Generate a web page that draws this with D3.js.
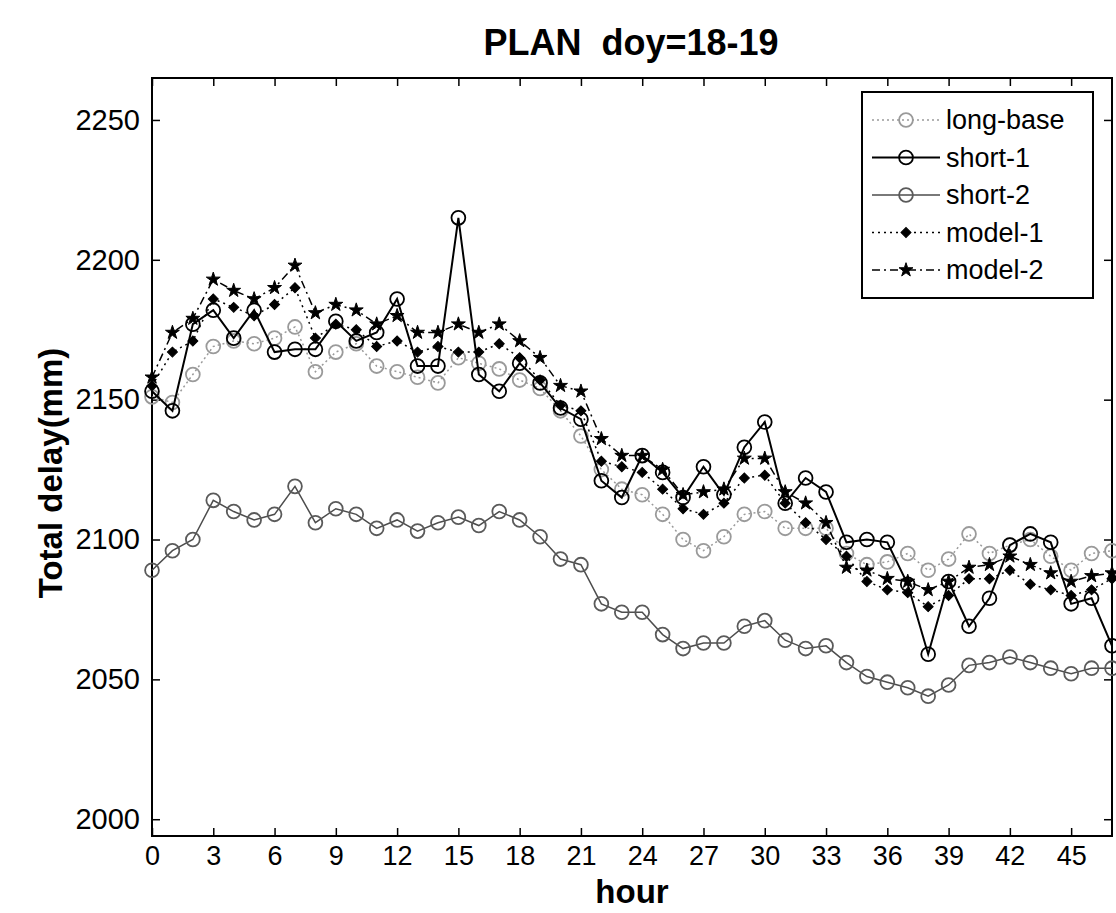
<!DOCTYPE html>
<html lang="en">
<head>
<meta charset="UTF-8">
<title>PLAN doy=18-19</title>
<script src="https://d3js.org/d3.v7.min.js"></script>
<style>
  body { margin: 0; background: #fff; }
  text { font-family: "Liberation Sans", Arial, sans-serif; fill: #000; }
  .axis text { font-size: 27px; }
  .axis.y text { font-size: 29px; }
  .axis line { stroke: #000; stroke-width: 1.5; }
  .title { font-size: 36px; font-weight: bold; }
  .axis-label { font-size: 33px; font-weight: bold; }
  .legend text { font-size: 27px; }
</style>
</head>
<body>
<svg width="1116" height="913"></svg>
<script>
// hour of the two days
const hours = [0, 1, 2, 3, 4, 5, 6, 7, 8, 9, 10, 11, 12, 13, 14, 15, 16, 17, 18, 19, 20, 21, 22, 23,
               24, 25, 26, 27, 28, 29, 30, 31, 32, 33, 34, 35, 36, 37, 38, 39, 40, 41, 42, 43, 44, 45, 46, 47];

const longBase = [2151, 2149, 2159, 2169, 2171, 2170, 2172, 2176, 2160, 2167, 2170, 2162, 2160, 2158, 2156, 2165,
                  2163, 2161, 2157, 2154, 2146, 2137, 2125, 2118, 2116, 2109, 2100, 2096, 2101, 2109, 2110, 2104,
                  2104, 2104, 2095, 2091, 2092, 2095, 2089, 2093, 2102, 2095, 2098, 2100, 2094, 2089, 2095, 2096];
const short1 = [2153, 2146, 2177, 2182, 2172, 2182, 2167, 2168, 2168, 2178, 2171, 2174, 2186, 2162, 2162, 2215,
                2159, 2153, 2163, 2156, 2147, 2143, 2121, 2115, 2130, 2124, 2115, 2126, 2116, 2133, 2142, 2113,
                2122, 2117, 2099, 2100, 2099, 2084, 2059, 2085, 2069, 2079, 2098, 2102, 2099, 2077, 2079, 2062];
const short2 = [2089, 2096, 2100, 2114, 2110, 2107, 2109, 2119, 2106, 2111, 2109, 2104, 2107, 2103, 2106, 2108,
                2105, 2110, 2107, 2101, 2093, 2091, 2077, 2074, 2074, 2066, 2061, 2063, 2063, 2069, 2071, 2064,
                2061, 2062, 2056, 2051, 2049, 2047, 2044, 2048, 2055, 2056, 2058, 2056, 2054, 2052, 2054, 2054];
const model1 = [2155, 2167, 2171, 2186, 2183, 2180, 2184, 2190, 2172, 2177, 2175, 2169, 2171, 2167, 2169, 2167,
                2167, 2170, 2165, 2157, 2148, 2146, 2128, 2126, 2124, 2118, 2111, 2109, 2113, 2122, 2123, 2113,
                2106, 2100, 2094, 2085, 2082, 2081, 2076, 2080, 2086, 2086, 2089, 2084, 2082, 2080, 2082, 2086];
const model2 = [2158, 2174, 2179, 2193, 2189, 2186, 2190, 2198, 2181, 2184, 2182, 2177, 2180, 2174, 2174, 2177,
                2174, 2177, 2171, 2165, 2155, 2153, 2136, 2130, 2130, 2125, 2116, 2117, 2118, 2129, 2129, 2117,
                2113, 2106, 2090, 2089, 2086, 2085, 2082, 2085, 2090, 2091, 2094, 2091, 2088, 2085, 2087, 2088];

const xTicks = [0, 3, 6, 9, 12, 15, 18, 21, 24, 27, 30, 33, 36, 39, 42, 45];
const yTicks = [2000, 2050, 2100, 2150, 2200, 2250];

const series = [
  {name: "long-base", values: longBase, stroke: "#9a9a9a", dash: "2,3", width: 1.5, marker: "circle", mstroke: "#9a9a9a", mfill: "none"},
  {name: "short-1", values: short1, stroke: "#000", dash: null, width: 2, marker: "circle", mstroke: "#000", mfill: "none"},
  {name: "short-2", values: short2, stroke: "#4d4d4d", dash: null, width: 1.5, marker: "circle", mstroke: "#5a5a5a", mfill: "none"},
  {name: "model-1", values: model1, stroke: "#000", dash: "2,4", width: 1.5, marker: "diamond", mstroke: "#000", mfill: "#000"},
  {name: "model-2", values: model2, stroke: "#000", dash: "8,4,2,4", width: 1.5, marker: "star", mstroke: "#000", mfill: "#000"}
];
// draw order: backgrounds first, short-1 on top
const drawOrder = ["long-base", "short-2", "model-1", "model-2", "short-1"];

const svg = d3.select("svg"),
  margin = {top: 78, right: 4, bottom: 77, left: 152},
  width = +svg.attr("width") - margin.left - margin.right,
  height = +svg.attr("height") - margin.top - margin.bottom,
  g = svg.append("g").attr("transform", "translate(" + margin.left + "," + margin.top + ")");

const x = d3.scaleLinear().domain([0, 47]).range([0, width]);
const y = d3.scaleLinear().domain([1994, 2265]).range([height, 0]);

// axes, MATLAB style ticks pointing inwards
g.append("g")
  .attr("class", "axis x")
  .attr("transform", "translate(0," + height + ")")
  .call(d3.axisBottom(x).tickValues(xTicks).tickSizeInner(-8).tickSizeOuter(0).tickPadding(10))
  .call(a => a.select(".domain").remove());

g.append("g")
  .attr("class", "axis y")
  .call(d3.axisLeft(y).tickValues(yTicks).tickFormat(d3.format("d")).tickSizeInner(-8).tickSizeOuter(0).tickPadding(12))
  .call(a => a.select(".domain").remove());

g.append("g")
  .attr("class", "axis")
  .call(d3.axisTop(x).tickValues(xTicks).tickSizeInner(-8).tickSizeOuter(0).tickFormat(""))
  .call(a => a.select(".domain").remove());

g.append("g")
  .attr("class", "axis")
  .attr("transform", "translate(" + width + ",0)")
  .call(d3.axisRight(y).tickValues(yTicks).tickSizeInner(-8).tickSizeOuter(0).tickFormat(""))
  .call(a => a.select(".domain").remove());

g.append("rect")
  .attr("width", width)
  .attr("height", height)
  .attr("fill", "none")
  .attr("stroke", "#000")
  .attr("stroke-width", 2);

const line = d3.line()
  .x((d, i) => x(hours[i]))
  .y(d => y(d));

const symbols = {
  circle: d3.symbol().type(d3.symbolCircle).size(150),
  diamond: d3.symbol().type(d3.symbolSquare).size(50),
  star: d3.symbol().type(d3.symbolStar).size(60)
};

function drawMarker(sel, s) {
  sel.attr("d", symbols[s.marker]())
    .attr("fill", s.mfill)
    .attr("stroke", s.mstroke)
    .attr("stroke-width", s.marker === "circle" ? 1.8 : 1);
}

function place(px, py, s) {
  return "translate(" + px + "," + py + ")" + (s.marker === "diamond" ? " rotate(45)" : "");
}

drawOrder.forEach(function (name) {
  const s = series.find(d => d.name === name);
  g.append("path")
    .datum(s.values)
    .attr("fill", "none")
    .attr("stroke", s.stroke)
    .attr("stroke-width", s.width)
    .attr("stroke-dasharray", s.dash)
    .attr("d", line);

  g.append("g").selectAll("path")
    .data(s.values)
    .join("path")
    .attr("transform", (d, i) => place(x(hours[i]), y(d), s))
    .call(sel => drawMarker(sel, s));
});

// title and axis labels
svg.append("text")
  .attr("class", "title")
  .attr("x", 631)
  .attr("y", 55)
  .attr("text-anchor", "middle")
  .attr("xml:space", "preserve")
  .text("PLAN  doy=18-19");

svg.append("text")
  .attr("class", "axis-label")
  .attr("x", 632)
  .attr("y", 903)
  .attr("text-anchor", "middle")
  .text("hour");

svg.append("text")
  .attr("class", "axis-label")
  .attr("transform", "translate(62," + 473 + ") rotate(-90)")
  .attr("text-anchor", "middle")
  .text("Total delay(mm)");

// legend
const legend = svg.append("g").attr("class", "legend").attr("transform", "translate(862,92)");
legend.append("rect")
  .attr("width", 231)
  .attr("height", 206)
  .attr("fill", "#fff")
  .attr("stroke", "#000")
  .attr("stroke-width", 2);

series.forEach(function (s, i) {
  const row = legend.append("g").attr("transform", "translate(0," + (28 + i * 37.5) + ")");
  row.append("line")
    .attr("x1", 10).attr("x2", 78)
    .attr("stroke", s.stroke)
    .attr("stroke-width", s.width)
    .attr("stroke-dasharray", s.dash);
  row.append("path")
    .attr("transform", place(44, 0, s))
    .call(sel => drawMarker(sel, s));
  row.append("text")
    .attr("x", 84)
    .attr("y", 9)
    .text(s.name);
});
</script>
</body>
</html>
